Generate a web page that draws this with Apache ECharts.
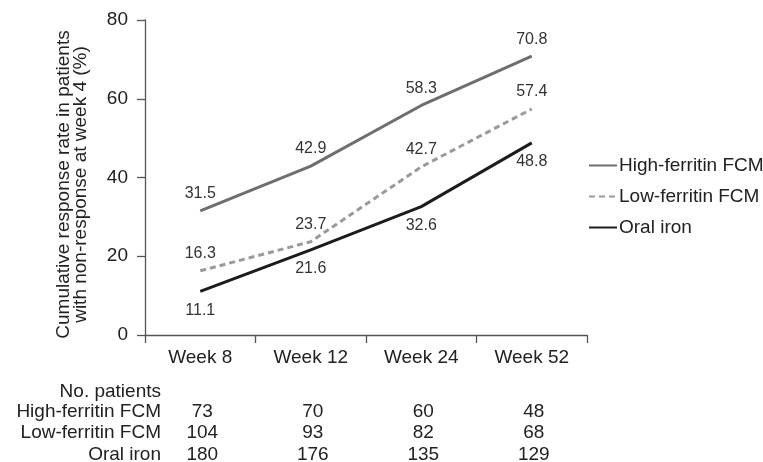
<!DOCTYPE html>
<html>
<head>
<meta charset="utf-8">
<script src="https://cdn.jsdelivr.net/npm/echarts@6/dist/echarts.min.js"></script>
<style>
  html, body { margin: 0; padding: 0; background: #fff; }
  #chart { width: 763px; height: 462px; }
</style>
</head>
<body>
<div id="chart"></div>
<script>
// Time points
const weeks = ['Week 8', 'Week 12', 'Week 24', 'Week 52'];

// Cumulative response rate (%) per group
const highFerritin = [31.5, 42.9, 58.3, 70.8];
const lowFerritin = [16.3, 23.7, 42.7, 57.4];
const oralIron = [11.1, 21.6, 32.6, 48.8];

// Number of patients at each time point
const nHigh = [73, 70, 60, 48];
const nLow = [104, 93, 82, 68];
const nOral = [180, 176, 135, 129];

const groupNames = ['High-ferritin FCM', 'Low-ferritin FCM', 'Oral iron'];
const yTicks = [0, 20, 40, 60, 80];

const FONT = '"Liberation Sans", Arial, Helvetica, sans-serif';
const TEXT = '#222';
const CLEAR = 'rgba(0,0,0,0)';

const chart = echarts.init(document.getElementById('chart'), null, { renderer: 'canvas' });

function labelCfg(pos, dist) {
  return {
    show: true, position: pos, distance: dist,
    fontFamily: FONT, fontSize: 16, color: '#333',
    formatter: p => p.value.toFixed(1)
  };
}

chart.setOption({
  animation: false,
  backgroundColor: '#fff',
  textStyle: { fontFamily: FONT },
  grid: { left: 145, right: 176, top: 20, bottom: 127 },
  legend: {
    orient: 'vertical',
    left: 583, top: 151,
    itemWidth: 28, itemHeight: 14, itemGap: 12,
    itemStyle: { opacity: 0 },
    textStyle: { fontFamily: FONT, fontSize: 19, color: TEXT, padding: [0, 0, 0, -3] },
    data: groupNames
  },
  xAxis: {
    type: 'category',
    data: weeks,
    boundaryGap: true,
    axisLine: { lineStyle: { color: '#555', width: 1.3 } },
    axisTick: { show: true, length: 8, inside: false, lineStyle: { color: '#555', width: 1.3 } },
    axisLabel: { fontFamily: FONT, fontSize: 19, color: TEXT, margin: 13 },
    splitLine: { show: false }
  },
  yAxis: {
    type: 'value',
    min: yTicks[0], max: yTicks[yTicks.length - 1], interval: 20,
    name: 'Cumulative response rate in patients\nwith non-response at week 4 (%)',
    nameLocation: 'middle',
    nameGap: 56,
    nameRotate: 90,
    nameTextStyle: { fontFamily: FONT, fontSize: 19, color: TEXT, lineHeight: 17, padding: [0, 14, 0, 0] },
    axisLine: { show: true, lineStyle: { color: '#555', width: 1.3 } },
    axisTick: { show: true, length: 8, lineStyle: { color: '#555', width: 1.3 } },
    axisLabel: { fontFamily: FONT, fontSize: 19, color: TEXT, margin: 17 },
    splitLine: { show: false }
  },
  series: [
    {
      name: groupNames[0], type: 'line', data: highFerritin,
      symbol: 'circle', symbolSize: 2, showSymbol: true,
      lineStyle: { color: '#6e6e6e', width: 3 }, itemStyle: { color: CLEAR },
      label: labelCfg('top', 8)
    },
    {
      name: groupNames[1], type: 'line', data: lowFerritin,
      symbol: 'circle', symbolSize: 2, showSymbol: true,
      lineStyle: { color: '#9a9a9a', width: 3, type: [6, 4] }, itemStyle: { color: CLEAR },
      label: labelCfg('top', 8)
    },
    {
      name: groupNames[2], type: 'line', data: oralIron,
      symbol: 'circle', symbolSize: 2, showSymbol: true,
      lineStyle: { color: '#1c1c1c', width: 3 }, itemStyle: { color: CLEAR },
      label: labelCfg('bottom', 10)
    }
  ]
});

// Patient-count table under the x axis, columns aligned to the category centres
function buildTable() {
  const rows = [
    { name: groupNames[0], vals: nHigh, y: 412 },
    { name: groupNames[1], vals: nLow, y: 433 },
    { name: groupNames[2], vals: nOral, y: 455 }
  ];
  const elements = [];
  const labelRight = 161;
  const base = { fontFamily: FONT, fontSize: 19, fill: TEXT, verticalAlign: 'middle' };
  elements.push({
    type: 'text', x: labelRight, y: 392,
    style: Object.assign({ text: 'No. patients', align: 'right' }, base)
  });
  rows.forEach(r => {
    elements.push({
      type: 'text', x: labelRight, y: r.y,
      style: Object.assign({ text: r.name, align: 'right' }, base)
    });
    r.vals.forEach((v, i) => {
      const px = chart.convertToPixel({ xAxisIndex: 0 }, weeks[i]);
      elements.push({
        type: 'text', x: px + 2, y: r.y,
        style: Object.assign({ text: String(v), align: 'center' }, base)
      });
    });
  });
  chart.setOption({ graphic: { elements } });
}
buildTable();
</script>
</body>
</html>
